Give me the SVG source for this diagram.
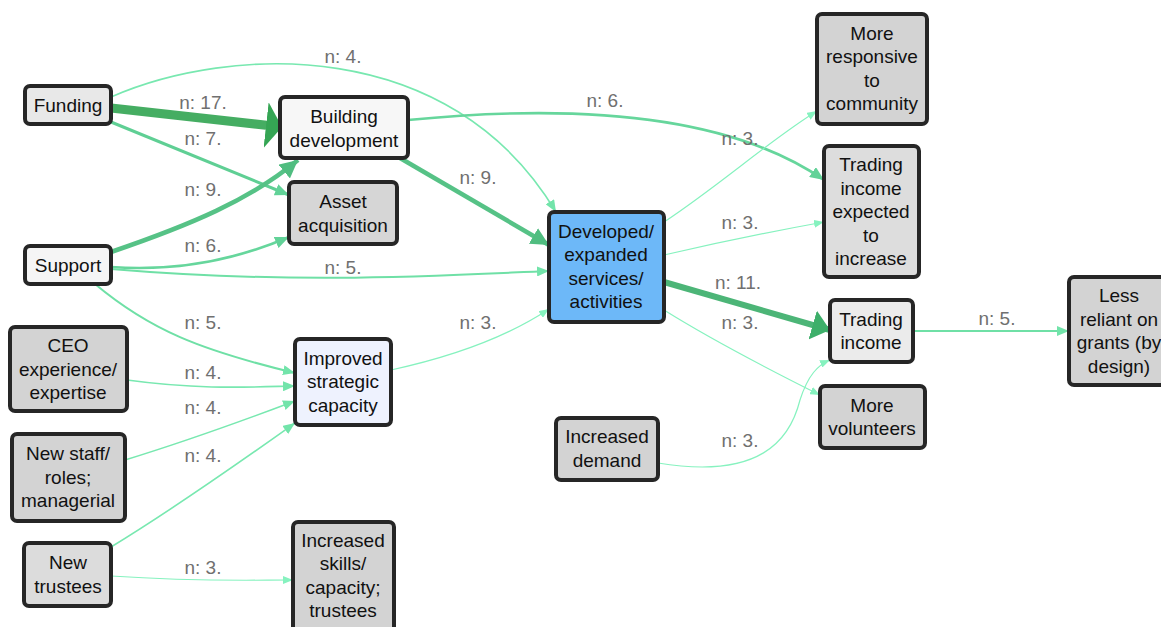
<svg xmlns="http://www.w3.org/2000/svg" width="1161" height="627" viewBox="0 0 1161 627">
<style>
.n rect{stroke:#262626;stroke-width:4}
.n text{font-family:"Liberation Sans",Arial,sans-serif;font-size:19px;fill:#111;text-anchor:middle}
.e path{fill:none}
.l text{font-family:"Liberation Sans",Arial,sans-serif;font-size:19px;fill:#707070;text-anchor:middle}
.w3{stroke:#86f2bf;stroke-width:1.2}
.w4{stroke:#78e8b0;stroke-width:1.6}
.w5{stroke:#6fe0a6;stroke-width:2}
.w6{stroke:#66d69c;stroke-width:2.6}
.w7{stroke:#5fcf94;stroke-width:3}
.w9{stroke:#56c286;stroke-width:4.5}
.w11{stroke:#4cb577;stroke-width:6}
.w17{stroke:#45ad62;stroke-width:9}
</style>
<defs>
<marker id="a3" markerUnits="userSpaceOnUse" viewBox="0 0 10 8" refX="10" refY="4" markerWidth="10" markerHeight="8" orient="auto"><path d="M0,0L10,4L0,8z" fill="#86f2bf"/></marker>
<marker id="a4" markerUnits="userSpaceOnUse" viewBox="0 0 12 10" refX="12" refY="5" markerWidth="12" markerHeight="10" orient="auto"><path d="M0,0L12,5L0,10z" fill="#72e4aa"/></marker>
<marker id="a6" markerUnits="userSpaceOnUse" viewBox="0 0 14 12" refX="14" refY="6" markerWidth="14" markerHeight="12" orient="auto"><path d="M0,0L14,6L0,12z" fill="#62d298"/></marker>
<marker id="a9" markerUnits="userSpaceOnUse" viewBox="0 0 18 18" refX="18" refY="9" markerWidth="18" markerHeight="18" orient="auto"><path d="M0,0L18,9L0,18z" fill="#50bd80"/></marker>
<marker id="a11" markerUnits="userSpaceOnUse" viewBox="0 0 18 30" refX="18" refY="15" markerWidth="18" markerHeight="30" orient="auto"><path d="M0,0L18,15L0,30z" fill="#3daf6a"/></marker>
<marker id="a17" markerUnits="userSpaceOnUse" viewBox="0 0 16 46" refX="16" refY="23" markerWidth="16" markerHeight="46" orient="auto"><path d="M0,0L16,23L0,46z" fill="#35a554"/></marker>
</defs>
<rect width="1161" height="627" fill="#ffffff"/>
<g id="edges" class="e">
<path class="w4" d="M111,97 C230,45 450,35 556,212" marker-end="url(#a4)"/>
<path class="w17" d="M111,108 L282,127" marker-end="url(#a17)"/>
<path class="w7" d="M111,122 C180,150 240,175 289,195" marker-end="url(#a6)"/>
<path class="w9" d="M111,252 C190,225 250,200 298,160" marker-end="url(#a9)"/>
<path class="w6" d="M111,267 C180,272 240,258 289,237" marker-end="url(#a6)"/>
<path class="w5" d="M111,269 C300,285 450,275 549,271" marker-end="url(#a4)"/>
<path class="w5" d="M95,284 C150,330 200,350 295,373" marker-end="url(#a4)"/>
<path class="w4" d="M127,380 C200,390 250,387 295,386" marker-end="url(#a4)"/>
<path class="w4" d="M125,460 C190,440 250,418 295,401" marker-end="url(#a4)"/>
<path class="w4" d="M111,547 C180,505 250,455 295,423" marker-end="url(#a4)"/>
<path class="w3" d="M111,576 C200,582 250,580 293,580" marker-end="url(#a3)"/>
<path class="w9" d="M400,158 L549,245" marker-end="url(#a9)"/>
<path class="w6" d="M408,120 C550,106 720,108 824,180" marker-end="url(#a6)"/>
<path class="w3" d="M391,370 C460,355 510,335 549,309" marker-end="url(#a3)"/>
<path class="w3" d="M664,222 C720,185 770,140 817,111" marker-end="url(#a3)"/>
<path class="w3" d="M664,255 C720,242 780,230 824,222" marker-end="url(#a3)"/>
<path class="w11" d="M664,282 L830,330" marker-end="url(#a11)"/>
<path class="w3" d="M664,310 C720,345 780,375 820,395" marker-end="url(#a3)"/>
<path class="w3" d="M658,463 C760,480 790,440 800,400 C808,375 818,365 830,360" marker-end="url(#a3)"/>
<path class="w5" d="M913,331 L1069,331" marker-end="url(#a4)"/>
</g>
<g id="funding" class="n"><rect x="25" y="86" width="86" height="38" rx="5" fill="#e8e8e8"/><text x="68" y="112">Funding</text></g>
<g id="building" class="n"><rect x="280" y="97" width="128" height="61" rx="5" fill="#f7f7f7"/><text x="344" y="123">Building</text><text x="344" y="147">development</text></g>
<g id="asset" class="n"><rect x="289" y="182" width="108" height="62" rx="5" fill="#d6d6d6"/><text x="343" y="208">Asset</text><text x="343" y="232">acquisition</text></g>
<g id="support" class="n"><rect x="25" y="246" width="86" height="38" rx="5" fill="#f5f5f5"/><text x="68" y="272">Support</text></g>
<g id="ceo" class="n"><rect x="10" y="327" width="117" height="84" rx="5" fill="#d3d3d3"/><text x="68" y="352">CEO</text><text x="68" y="376">experience/</text><text x="68" y="399">expertise</text></g>
<g id="newstaff" class="n"><rect x="12" y="434" width="113" height="87" rx="5" fill="#d3d3d3"/><text x="68" y="460">New staff/</text><text x="68" y="484">roles;</text><text x="68" y="507">managerial</text></g>
<g id="newtrustees" class="n"><rect x="24" y="543" width="87" height="63" rx="5" fill="#dcdcdc"/><text x="68" y="569">New</text><text x="68" y="593">trustees</text></g>
<g id="improved" class="n"><rect x="295" y="339" width="96" height="86" rx="5" fill="#eef2fe"/><text x="343" y="365">Improved</text><text x="343" y="388">strategic</text><text x="343" y="412">capacity</text></g>
<g id="skills" class="n"><rect x="293" y="522" width="101" height="115" rx="5" fill="#d3d3d3"/><text x="343" y="547">Increased</text><text x="343" y="570">skills/</text><text x="343" y="594">capacity;</text><text x="343" y="617">trustees</text></g>
<g id="developed" class="n"><rect x="549" y="212" width="115" height="110" rx="5" fill="#6db8f8"/><text x="606" y="238">Developed/</text><text x="606" y="261">expanded</text><text x="606" y="285">services/</text><text x="606" y="308">activities</text></g>
<g id="demand" class="n"><rect x="556" y="418" width="102" height="62" rx="5" fill="#d3d3d3"/><text x="607" y="443">Increased</text><text x="607" y="467">demand</text></g>
<g id="responsive" class="n"><rect x="817" y="14" width="110" height="110" rx="5" fill="#d3d3d3"/><text x="872" y="40">More</text><text x="872" y="63">responsive</text><text x="872" y="87">to</text><text x="872" y="110">community</text></g>
<g id="tradingexp" class="n"><rect x="824" y="146" width="95" height="131" rx="5" fill="#dddddd"/><text x="871" y="171">Trading</text><text x="871" y="195">income</text><text x="871" y="218">expected</text><text x="871" y="242">to</text><text x="871" y="265">increase</text></g>
<g id="trading" class="n"><rect x="830" y="300" width="83" height="62" rx="5" fill="#ebebeb"/><text x="871" y="326">Trading</text><text x="871" y="349">income</text></g>
<g id="volunteers" class="n"><rect x="820" y="386" width="105" height="62" rx="5" fill="#d3d3d3"/><text x="872" y="412">More</text><text x="872" y="435">volunteers</text></g>
<g id="lessreliant" class="n"><rect x="1069" y="277" width="110" height="108" rx="5" fill="#d3d3d3"/><text x="1119" y="302">Less</text><text x="1119" y="326">reliant on</text><text x="1119" y="349">grants (by</text><text x="1119" y="373">design)</text></g>
<g id="labels" class="l">
<text x="343" y="63">n: 4.</text>
<text x="203" y="109">n: 17.</text>
<text x="203" y="145">n: 7.</text>
<text x="203" y="196">n: 9.</text>
<text x="203" y="252">n: 6.</text>
<text x="343" y="274">n: 5.</text>
<text x="203" y="329">n: 5.</text>
<text x="203" y="379">n: 4.</text>
<text x="203" y="414">n: 4.</text>
<text x="203" y="462">n: 4.</text>
<text x="203" y="574">n: 3.</text>
<text x="478" y="184">n: 9.</text>
<text x="605" y="107">n: 6.</text>
<text x="478" y="329">n: 3.</text>
<text x="740" y="145">n: 3.</text>
<text x="740" y="229">n: 3.</text>
<text x="738" y="289">n: 11.</text>
<text x="740" y="329">n: 3.</text>
<text x="740" y="447">n: 3.</text>
<text x="997" y="325">n: 5.</text>
</g>
</svg>
